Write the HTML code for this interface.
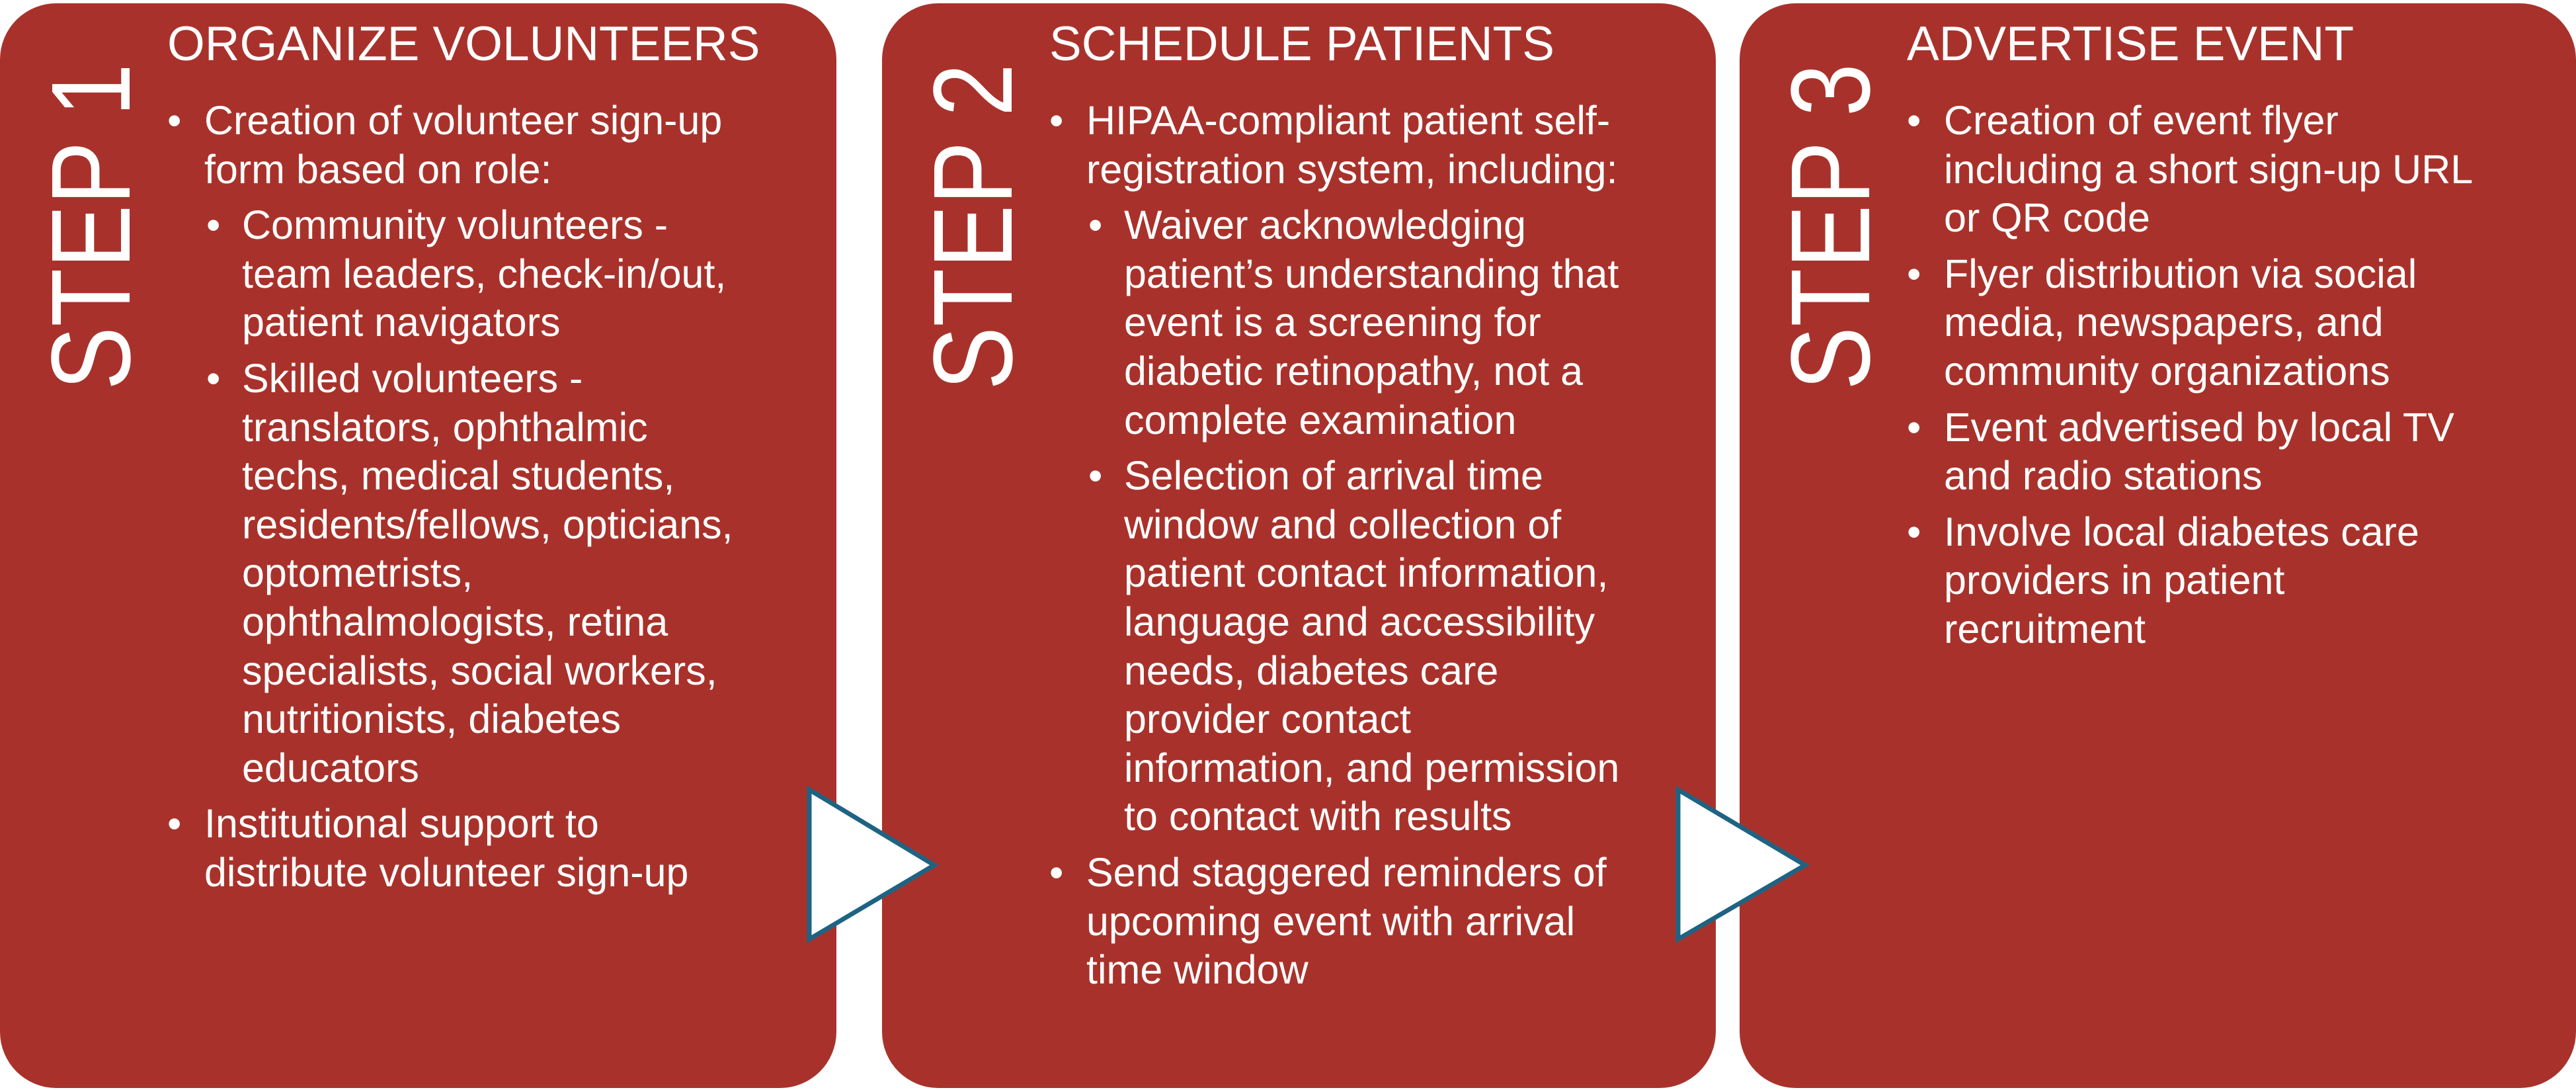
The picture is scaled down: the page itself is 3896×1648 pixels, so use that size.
<!DOCTYPE html>
<html><head><meta charset="utf-8"><style>
html,body{margin:0;padding:0;background:#fff;}
body{width:3896px;height:1648px;position:relative;overflow:hidden;font-family:"Liberation Sans",sans-serif;color:#fff;}
svg{position:absolute;left:0;top:0;}
.h{position:absolute;top:22px;font-size:73px;line-height:90px;white-space:nowrap;}
.list{position:absolute;top:146px;font-size:61px;line-height:73.6px;white-space:nowrap;}
.it{position:relative;padding-left:56px;margin-bottom:11px;}
.it::before{content:"•";position:absolute;left:0;top:0;}
.sub{margin-top:11px;}
.sub .it{padding-left:54px;margin-left:3px;}
</style></head><body>
<svg width="3896" height="1648" viewBox="0 0 3896 1648">
<rect x="0" y="5" width="1265" height="1640" rx="85" ry="85" fill="#a8322b"/>
<rect x="1334" y="5" width="1261" height="1640" rx="85" ry="85" fill="#a8322b"/>
<rect x="2631" y="5" width="1265" height="1640" rx="85" ry="85" fill="#a8322b"/>
<polygon points="1224,1194 1413,1308 1224,1420" fill="#fff" stroke="#1f6383" stroke-width="7" stroke-linejoin="miter"/>
<polygon points="2538,1194 2730,1308 2538,1420" fill="#fff" stroke="#1f6383" stroke-width="7" stroke-linejoin="miter"/>
<g font-family="Liberation Sans, sans-serif" font-size="170" fill="#fff">
<text transform="translate(196,590) rotate(-90)" textLength="494" lengthAdjust="spacingAndGlyphs">STEP 1</text>
<text transform="translate(1530,590) rotate(-90)" textLength="494" lengthAdjust="spacingAndGlyphs">STEP 2</text>
<text transform="translate(2827,590) rotate(-90)" textLength="494" lengthAdjust="spacingAndGlyphs">STEP 3</text>
</g>
</svg>

<div class="h" style="left:253px">ORGANIZE VOLUNTEERS</div>
<div class="list" style="left:253px">
 <div class="it">Creation of volunteer sign-up<br>form based on role:
  <div class="sub">
   <div class="it">Community volunteers -<br>team leaders, check-in/out,<br>patient navigators</div>
   <div class="it">Skilled volunteers -<br>translators, ophthalmic<br>techs, medical students,<br>residents/fellows, opticians,<br>optometrists,<br>ophthalmologists, retina<br>specialists, social workers,<br>nutritionists, diabetes<br>educators</div>
  </div>
 </div>
 <div class="it">Institutional support to<br>distribute volunteer sign-up</div>
</div>

<div class="h" style="left:1587px">SCHEDULE PATIENTS</div>
<div class="list" style="left:1587px">
 <div class="it">HIPAA-compliant patient self-<br>registration system, including:
  <div class="sub">
   <div class="it">Waiver acknowledging<br>patient’s understanding that<br>event is a screening for<br>diabetic retinopathy, not a<br>complete examination</div>
   <div class="it">Selection of arrival time<br>window and collection of<br>patient contact information,<br>language and accessibility<br>needs, diabetes care<br>provider contact<br>information, and permission<br>to contact with results</div>
  </div>
 </div>
 <div class="it">Send staggered reminders of<br>upcoming event with arrival<br>time window</div>
</div>

<div class="h" style="left:2884px">ADVERTISE EVENT</div>
<div class="list" style="left:2884px">
 <div class="it">Creation of event flyer<br>including a short sign-up URL<br>or QR code</div>
 <div class="it">Flyer distribution via social<br>media, newspapers, and<br>community organizations</div>
 <div class="it">Event advertised by local TV<br>and radio stations</div>
 <div class="it">Involve local diabetes care<br>providers in patient<br>recruitment</div>
</div>
</body></html>
